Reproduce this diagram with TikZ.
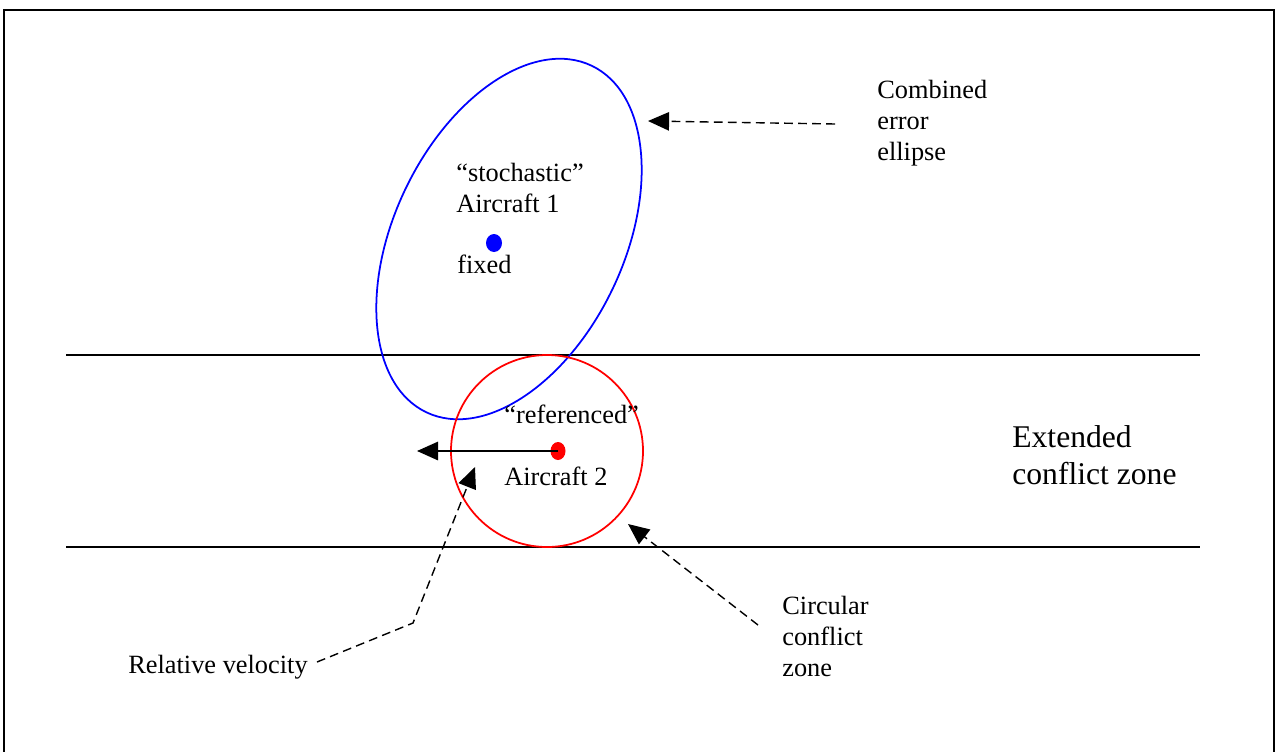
\documentclass[tikz,border=0pt]{standalone}
\usepackage{fontspec}
\setmainfont{Liberation Serif}
\usetikzlibrary{arrows.meta}

\begin{document}
\begin{tikzpicture}[
    x=0.02cm, y=-0.02cm,
    every node/.style={inner sep=0pt, anchor=base west, align=left},
    txt/.style={font=\fontsize{15}{17.6}\selectfont},
    big/.style={font=\fontsize{18}{21}\selectfont},
    border/.style={line width=1.1pt},
    zone/.style={line width=1pt},
    tip/.style={-{Triangle[length=12pt,width=10.5pt]}},
    note/.style={tip, line width=0.8pt, dash pattern=on 5pt off 3pt}
]
\useasboundingbox (0,0) rectangle (1278,751);

% frame, open at the bottom
\draw [border] (4,760) -- (4,10) -- (1274,10) -- (1274,760);

% band of the extended conflict zone
\draw [border] (66,355) -- (1200,355);
\draw [border] (66,547) -- (1200,547);

% aircraft 1 and its error ellipse
\coordinate (ac1) at (494,243);
\draw [blue, zone, rotate around={-25.5:(509,239)}]
    (509,239) ellipse [x radius=115, y radius=192];
\fill [blue] (ac1) ellipse [x radius=8, y radius=9];

% aircraft 2 and its conflict circle
\coordinate (ac2) at (558,451);
\draw [red, zone] (547,451) circle [radius=96];
\fill [red] (ac2) ellipse [x radius=7.5, y radius=9];

\coordinate (vel) at (417,451);
\draw [tip, line width=1pt] (ac2) -- (vel);

% labels (base = last line)
\node [txt] (ac1lab) at (456,212) {“stochastic”\\Aircraft 1};
\node [txt] (fixed)  at (457,273) {fixed};
\node [txt] (ac2ref) at (504,423) {“referenced”};
\node [txt] (ac2lab) at (504,485) {Aircraft 2};
\node [txt] (comb)   at (877,160) {Combined\\error\\ellipse};
\node [txt] (circ)   at (782,676) {Circular\\conflict\\zone};
\node [txt] (relvel) at (128,673) {Relative velocity};
\node [big] (ext)    at (1012,484) {Extended\\conflict zone};

% pointers
\coordinate (combtip) at (648,121);
\coordinate (circtip) at (628,524);
\coordinate (bend)    at (413,623);
\coordinate (reltip)  at (475,467);

\draw [note] ([shift={(-42,-36)}]comb.base west) -- (combtip);
\draw [note] ([shift={(-24,-51)}]circ.base west) -- (circtip);
\draw [note] ([shift={(9,-11)}]relvel.base east) -- (bend) -- (reltip);

\end{tikzpicture}
\end{document}
